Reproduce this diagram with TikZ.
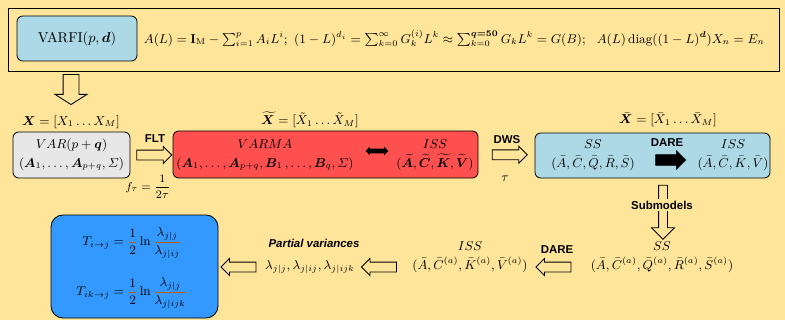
\documentclass[tikz,border=0pt]{standalone}
\usepackage{amsmath}
\usepackage{amssymb}
\usepackage{bm}
\usepackage{fontspec}
\newfontfamily\labelfont{Liberation Sans}
\usetikzlibrary{shapes.arrows, arrows.meta, positioning, calc}
\definecolor{cBack}{RGB}{255,229,153}
\definecolor{cLightBlue}{RGB}{173,216,230}
\definecolor{cGrey}{RGB}{231,231,231}
\definecolor{cRed}{RGB}{255,80,80}
\definecolor{cBlue}{RGB}{51,153,255}
\definecolor{cBar}{RGB}{197,90,17}
\newcommand{\barfrac}[2]{{\color{cBar}\dfrac{\color{black}#1}{\color{black}#2}}}
\tikzset{
    box/.style={rectangle, rounded corners=4pt, draw=black, line width=0.6pt, align=center, inner sep=2pt},
    openarrow/.style={single arrow, draw=black, line width=0.6pt, fill=cBack, inner xsep=0pt, single arrow head indent=0pt},
    solidarrow/.style={single arrow, draw=black, fill=black, inner xsep=0pt, single arrow head indent=0pt},
    sanslabel/.style={font=\labelfont\bfseries\footnotesize, inner sep=1pt},
}

\begin{document}
\begin{tikzpicture}[x=0.7pt,y=-0.7pt, every node/.append style={font=\small}]
    % background and model frame
    \fill[cBack] (0,0) rectangle (785,320);
    \useasboundingbox (0,0) rectangle (785,320);
    \draw[line width=0.5pt] (8,8) rectangle (779,71);
    \node[box, fill=cLightBlue, minimum width=84pt, minimum height=31.5pt, font=\normalsize] (varfi) at (77,38.5) {VARFI$(p,\bm{d})$};
    \node[right=1pt of varfi] (model) {$A(L)=\mathbf{I}_{\mathrm{M}}-\sum_{i=1}^{p}A_iL^i;\ (1-L)^{d_i}=\sum_{k=0}^{\infty}G_k^{(i)}L^k\approx\sum_{k=0}^{\bm{q=50}}G_kL^k=G(B);\ \ A(L)\,\mathrm{diag}((1-L)^{\bm{d}})X_n=E_n$};

    % first row
    \node[openarrow, rotate=-90, minimum height=21pt, inner ysep=5.25pt, single arrow head extend=5.6pt, single arrow tip angle=115] (down) at (71,87) {};
    \node (xlab) at (71,122) {$\bm{X}=[X_1\ldots X_M]$};
    \node[box, fill=cGrey, minimum width=81.9pt, minimum height=32.2pt] (var) at (71.5,155) {$VAR(p+\bm{q})$\\[2pt]$(\bm{A}_1,\ldots,\bm{A}_{p+q},\varSigma)$};

    \node[openarrow, minimum height=24.5pt, inner ysep=3.15pt, single arrow head extend=2.45pt] (flt) at ($(var.east)!0.5!(173,155)$) {};
    \node[sanslabel] (fltlab) at (155,139) {FLT};
    \node[font=\footnotesize] (ftau) at (148,187) {$f_\tau=\dfrac{1}{2\tau}$};

    \node[box, fill=cRed, minimum width=213.5pt, minimum height=32.9pt] (varma) at (325.5,154.5) {};
    \node[align=center] (varmatext) at (265,155) {$VARMA$\\[2pt]$(\bm{A}_1,\ldots,\bm{A}_{p+q},\bm{B}_1\,,\ldots,\bm{B}_q,\varSigma)$};
    \node[double arrow, fill=black, inner xsep=0pt, inner ysep=1.4pt, double arrow head extend=1.4pt, minimum height=16pt] (equiv) at (377,151) {};
    \node[align=center] (isstext) at (435,155) {$ISS$\\[2pt]$(\widetilde{\bm{A}},\widetilde{\bm{C}},\widetilde{\bm{K}},\widetilde{\bm{V}})$};
    \node (xtlab) at (310,120) {$\widetilde{\bm{X}}=[\tilde{X}_1\ldots\tilde{X}_M]$};

    \node[openarrow, minimum height=24.5pt, inner ysep=3.15pt, single arrow head extend=2.45pt] (dws) at ($(varma.east)!0.5!(536,155)$) {};
    \node[sanslabel] (dwslab) at (507,140) {DWS};
    \node (tau) at (505,179) {$\tau$};

    \node[box, fill=cLightBlue, minimum width=164.5pt, minimum height=31.5pt] (ssbox) at (652.5,155.5) {};
    \node[align=center] (sstext) at (593,155) {$SS$\\[2pt]$(\bar{A},\bar{C},\bar{Q},\bar{R},\bar{S})$};
    \node[sanslabel] (darelab) at (667,143) {DARE};
    \node[solidarrow, minimum height=21pt, inner ysep=3.5pt, single arrow head extend=2.8pt] (dare) at (668,160) {};
    \node[align=center] (isstextb) at (733,155) {$ISS$\\[2pt]$(\bar{A},\bar{C},\bar{K},\bar{V})$};
    \node (xblab) at (668,120) {$\bar{\bm{X}}=[\bar{X}_1\ldots\bar{X}_M]$};

    % submodels
    \node[openarrow, rotate=-90, minimum height=37.8pt, inner ysep=2.8pt, single arrow head extend=4.9pt] (sub) at (663,210) {};
    \node[sanslabel, fill=cBack] (sublab) at (662,205) {Submodels};

    % second row
    \node[align=center] (subss) at (662,257) {$SS$\\[2pt]$(\bar{A},\bar{C}^{(a)},\bar{Q}^{(a)},\bar{R}^{(a)},\bar{S}^{(a)})$};
    \node[openarrow, rotate=180, minimum height=24.5pt, inner ysep=3.15pt, single arrow head extend=2.45pt] (dareb) at (556,267) {};
    \node[sanslabel] (darelabb) at (557,250) {DARE};
    \node[align=center] (subiss) at (470,257) {$ISS$\\[2pt]$(\bar{A},\bar{C}^{(a)},\bar{K}^{(a)},\bar{V}^{(a)})$};
    \node[openarrow, rotate=180, minimum height=24.5pt, inner ysep=3.15pt, single arrow head extend=2.45pt] (pv) at (381.5,267) {};
    \node[sanslabel, font=\labelfont\bfseries\itshape\footnotesize] (pvlab) at (314,243) {Partial variances};
    \node (lambdas) at (310,267) {$\lambda_{j|j},\lambda_{j|ij},\lambda_{j|ijk}$};
    \node[openarrow, rotate=180, minimum height=24.5pt, inner ysep=3.15pt, single arrow head extend=2.45pt] (te) at (241,267) {};

    \node[box, fill=cBlue, rounded corners=8.4pt, minimum width=116.9pt, minimum height=72.1pt] (result) at (134.5,266.5) {};
    \node (tij) at (132,243) {$T_{i\to j}=\barfrac{1}{2}\ln\barfrac{\lambda_{j|j}}{\lambda_{j|ij}}$};
    \node (tikj) at (132,293) {$T_{ik\to j}=\barfrac{1}{2}\ln\barfrac{\lambda_{j|j}}{\lambda_{j|ijk}}$};
\end{tikzpicture}
\end{document}
